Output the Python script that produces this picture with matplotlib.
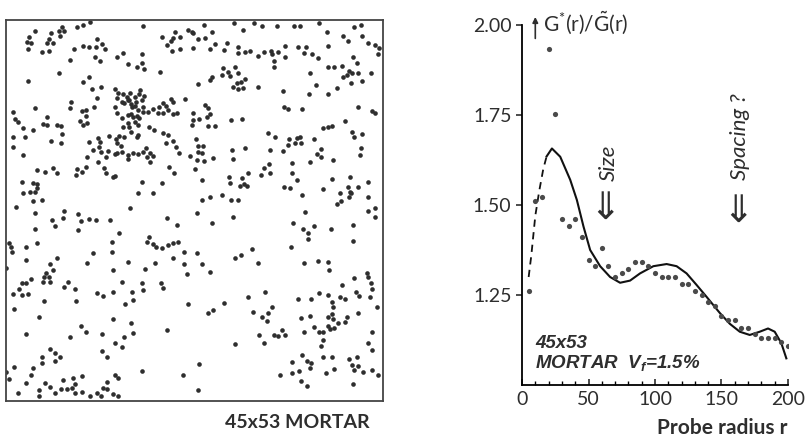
import numpy as np
import matplotlib.pyplot as plt

plt.rcParams['font.family'] = ['Lato', 'DejaVu Sans']
plt.rcParams['mathtext.fontset'] = 'custom'
plt.rcParams['mathtext.rm'] = 'Lato'
plt.rcParams['mathtext.it'] = 'Liberation Sans:italic:bold'

# fibre section: dot centres in four tiles (tile units, 3 per px)
tile_nw = [(105,92),(88,110),(80,125),(92,128),(85,148),(152,100),(148,118),(142,130),(160,128),(148,152),
           (176,94),(180,108),(186,80),(192,92),(232,80),(248,75),(270,67),(125,157),(210,180),(222,148),
           (248,138),(268,142),(290,118),(288,140),(305,132),(316,148),(285,170),(300,183),(428,78),(352,172),
           (370,160),(425,162),(385,193),(412,200),(425,188),(432,206),(178,218),(85,243),(250,245),(268,232),
           (275,268),(303,262),(290,293),(212,305),(210,325),(245,332),(258,330),(282,322),(258,348),(240,362),
           (262,370),(248,375),(345,268),(355,278),(370,282),(380,290),(385,300),(350,293),(365,305),(372,310),
           (390,280),(388,300),(395,322),(405,290),(408,305),(415,330),(420,270),(418,282),(425,300),(428,320),
           (430,335),(445,335),(460,328),(478,320),(490,308),(498,318),(505,330),(512,298),(520,305),(520,342),
           (530,338),(556,297),(346,320),(350,338),(365,355),(385,345),(392,342),(400,350),(410,348),(418,355),
           (404,365),(385,368),(394,312),(406,318),(432,288),(475,338),(490,338),(480,215),(540,110),(525,95),
           (520,115),(512,122),(500,135),(485,112),(515,152),(540,148),(565,90),(575,95),(580,100),(578,145),
           (38,335),(45,358),(55,365),(68,383),(105,323),(98,390),(75,410),(38,412),(40,442),(140,350),
           (128,372),(140,375),(172,376),(182,378),(185,402),(152,422),(182,428),(70,465),(110,510),(135,515),
           (160,505),(172,518),(230,508),(228,525),(245,515),(258,502),(268,425),(295,415),(300,425),(298,440),
           (302,455),(260,470),(280,450),(295,485),(318,470),(323,452),(312,505),(318,520),(338,530),(345,528),
           (328,408),(348,418),(358,408),(372,412),(350,430),(362,438),(365,455),(352,460),(346,463),(385,465),
           (385,478),(400,460),(415,405),(415,462),(428,455),(438,445),(450,460),(440,470),(458,468),(450,485),
           (448,380),(462,390),(488,398),(505,405),(498,428),(520,422),(528,442),(538,458),(508,500),(522,518),
           (578,340),(575,375),(578,360),(570,468),(585,508),(65,545),(98,550),(110,552),(112,565),(105,575),
           (90,575),(68,578),(425,545),(485,548),(415,580),(458,580),(392,395),(412,410),(368,380),(388,380),
           (415,375)]
tile_ne = [(28,75),(118,70),(178,68),(200,78),(245,78),(298,78),(314,78),(372,70),(478,80),(498,76),
           (10,117),(30,115),(52,97),(95,128),(88,150),(60,132),(45,147),(130,140),(130,158),(150,155),
           (165,152),(188,168),(208,155),(228,152),(232,162),(248,155),(270,138),(270,170),(238,182),(236,202),
           (145,90),(310,140),(332,140),(326,158),(350,162),(368,175),(398,138),(395,95),(445,108),(460,122),
           (500,108),(518,130),(540,135),(552,145),(548,163),(475,170),(485,188),(462,212),(470,218),(455,225),
           (445,230),(468,248),(488,220),(502,242),(528,220),(400,202),(418,200),(440,198),(345,220),(362,255),
           (342,282),(400,282),(425,265),(264,272),(190,260),(85,205),(82,225),(100,215),(105,228),(120,200),
           (128,218),(125,248),(115,260),(138,245),(150,238),(145,265),(130,268),(50,232),(45,240),(10,253),
           (30,315),(40,325),(45,342),(35,352),(12,358),(38,378),(60,378),(108,360),(142,357),(268,320),
           (278,328),(320,328),(490,322),(530,332),(540,338),(385,383),(398,382),(410,378),(450,362),(472,395),
           (478,410),(502,402),(498,445),(495,465),(220,398),(240,410),(282,418),(300,428),(305,415),(315,410),
           (318,430),(280,435),(225,450),(265,452),(358,418),(378,448),(365,462),(378,470),(415,480),(345,485),
           (290,488),(4,418),(8,438),(25,437),(10,455),(20,458),(5,480),(28,483),(55,473),(110,450),
           (150,445),(115,478),(222,492),(208,505),(198,525),(225,520),(160,520),(140,533),(148,552),(135,558),
           (155,558),(103,530),(105,550),(20,540),(290,520),(305,540),(268,560),(285,565),(322,585),(385,568),
           (412,538),(435,578),(458,562),(465,575),(462,590),(468,578),(490,560),(518,545),(520,590),(465,530),
           (108,600),(130,600),(80,585),(45,592),(20,600)]
tile_sw = [(100,3),(125,0),(48,20),(105,38),(192,32),(155,60),(190,55),(165,78),(233,42),(242,62),
           (235,90),(268,58),(288,60),(330,60),(390,25),(105,88),(112,128),(78,142),(28,130),(32,140),
           (35,155),(78,180),(18,205),(150,192),(158,210),(170,175),(138,220),(132,232),(130,245),(148,232),
           (150,245),(92,238),(78,250),(65,250),(58,268),(65,285),(85,282),(40,282),(42,328),(118,350),
           (78,402),(132,303),(192,262),(205,245),(225,268),(228,302),(260,190),(278,158),(335,125),(335,157),
           (338,210),(358,98),(385,187),(365,245),(338,275),(290,278),(308,288),(395,275),(400,300),(375,312),
           (425,248),(428,270),(435,208),(440,125),(448,110),(458,132),(468,140),(485,145),(505,135),(520,130),
           (535,125),(465,190),(483,248),(488,265),(502,55),(532,75),(518,175),(552,155),(552,192),(562,222),
           (565,312),(338,358),(242,378),(258,396),(210,410),(305,402),(392,370),(398,398),(372,412),(345,428),
           (365,440),(305,452),(320,470),(502,390),(150,448),(165,460),(180,472),(125,470),(125,488),(165,482),
           (42,500),(18,515),(28,538),(78,550),(92,525),(98,505),(135,550),(150,560),(118,570),(118,588),
           (165,578),(182,568),(190,540),(200,568),(215,565),(218,535),(225,552),(225,580),(245,528),(245,575),
           (270,588),(292,578),(302,588),(308,565),(322,546),(322,568),(338,582),(345,525),(355,535),(355,588),
           (425,512),(548,525),(55,580)]
tile_se = [(5,38),(5,160),(20,193),(45,215),(52,68),(115,50),(120,175),(138,165),(172,148),(188,190),
           (330,35),(295,68),(325,88),(340,98),(358,78),(338,118),(288,142),(408,88),(425,12),(438,3),
           (475,75),(475,122),(520,32),(540,25),(540,52),(326,190),(370,182),(400,185),(402,210),(440,255),
           (478,235),(515,218),(518,232),(528,248),(532,268),(482,275),(492,288),(525,290),(545,320),(40,340),
           (55,330),(88,310),(158,290),(210,275),(175,335),(200,352),(220,338),(232,320),(215,362),(192,405),
           (208,430),(120,432),(238,405),(250,408),(260,390),(270,405),(308,296),(348,298),(372,280),(398,286),
           (410,305),(415,322),(435,290),(450,298),(410,342),(398,350),(415,358),(455,350),(450,365),(430,370),
           (345,348),(318,355),(326,395),(358,380),(372,395),(385,395),(398,378),(405,388),(418,385),(488,340),
           (385,420),(378,438),(532,395),(518,430),(530,450),(12,492),(8,570),(322,465),(335,482),(348,488),
           (345,505),(290,485),(290,520),(312,512),(255,525),(318,542),(335,558),(385,470),(412,470),(392,520),
           (418,508),(462,478),(485,470),(472,495),(478,510),(490,498),(505,515),(530,510),(550,525),(475,552)]
tile_origin = {"nw": (0, 0), "ne": (195, 0), "sw": (0, 200), "se": (195, 200)}

# G*(r)/G~(r) estimates against probe radius
probe_r = [5, 10, 15, 20, 25, 30, 35, 40, 45, 50, 55, 60, 65, 70, 75, 80, 85, 90, 95, 100,
           105, 110, 115, 120, 125, 130, 135, 140, 145, 150, 155, 160, 165, 170, 175, 180, 185, 190, 195, 200]
g_ratio = [1.262, 1.511, 1.522, 1.932, 1.753, 1.461, 1.442, 1.461, 1.412, 1.347, 1.331, 1.381, 1.331, 1.301,
           1.310, 1.321, 1.343, 1.343, 1.331, 1.310, 1.300, 1.300, 1.300, 1.280, 1.280, 1.261, 1.250, 1.231,
           1.219, 1.192, 1.180, 1.180, 1.159, 1.159, 1.143, 1.130, 1.130, 1.130, 1.120, 1.109]
# fitted curve (solid) and its extrapolation towards r=0 (dashed)
fit_r = [18.5, 22.5, 28.75, 36.25, 41.25, 46.25, 51.25, 58.75, 66.25, 73.75, 81.25, 88.75, 98.75, 108.75,
         116.25, 123.75, 131.25, 138.75, 148.75, 156.25, 163.75, 171.25, 178.75, 185, 190, 195, 198.75]
fit_g = [1.635, 1.657, 1.634, 1.57, 1.514, 1.44, 1.375, 1.33, 1.30, 1.284, 1.29, 1.31, 1.33, 1.336,
         1.33, 1.31, 1.278, 1.245, 1.20, 1.17, 1.148, 1.139, 1.148, 1.157, 1.148, 1.116, 1.074]
dash_r = [5, 7, 10, 13, 16, 18.5]
dash_g = [1.30, 1.36, 1.47, 1.54, 1.60, 1.635]

ink = '#2e2e2e'
fig = plt.figure(figsize=(8.12, 4.42), dpi=100)

# left: the section
ax1 = fig.add_axes([6/812, 1-401/442, 377/812, 381/442])
for key, pts in [("nw", tile_nw), ("ne", tile_ne), ("sw", tile_sw), ("se", tile_se)]:
    ox, oy = tile_origin[key]
    p = np.array(pts, dtype=float)
    ax1.scatter(ox + p[:, 0] / 3, oy + p[:, 1] / 3, s=11, color=ink, linewidths=0)
ax1.set_xlim(6, 383)
ax1.set_ylim(401, 20)
ax1.set_xticks([])
ax1.set_yticks([])
for sp in ax1.spines.values():
    sp.set_linewidth(1.3)
    sp.set_color('#444444')
fig.text(297/812, 1-423/442, '45x53 MORTAR', ha='center', va='center',
         fontsize=14, fontweight='bold', color=ink)

# right: the ratio plot
ax2 = fig.add_axes([522/812, 1-385/442, 266/812, 360/442])
ax2.scatter(probe_r, g_ratio, s=14, color='#4a4a4a', linewidths=0, zorder=3)
ax2.plot(fit_r, fit_g, color='#111111', lw=1.5)
ax2.plot(dash_r, dash_g, color='#111111', lw=1.3, dashes=(4, 3))
ax2.set_xlim(0, 200)
ax2.set_ylim(1.0, 2.0)
ax2.spines['top'].set_visible(False)
ax2.spines['right'].set_visible(False)
ax2.spines['left'].set_linewidth(1.3)
ax2.spines['bottom'].set_linewidth(1.3)
ax2.set_yticks([1.25, 1.5, 1.75, 2.0])
ax2.set_yticklabels(['1.25', '1.50', '1.75', '2.00'])
ax2.set_xticks([0, 50, 100, 150, 200])
ax2.set_xticks(np.arange(0, 201, 10), minor=True)
ax2.tick_params(axis='y', direction='out', length=4, width=1.2, labelsize=14, colors=ink)
ax2.tick_params(axis='x', which='major', direction='in', length=4, width=1.2, labelsize=14, colors=ink, pad=4)
ax2.tick_params(axis='x', which='minor', direction='in', length=3, width=1)
fig.text(788/812, 1-428/442, 'Probe radius r', ha='right', va='center',
         fontsize=15, fontweight='bold', color=ink)

ax2.annotate('', xy=(10, 2.03), xytext=(10, 1.955), annotation_clip=False,
             arrowprops=dict(arrowstyle='-|>', color=ink, lw=1.2, mutation_scale=8))
ax2.text(16, 2.005, r'$\mathrm{G^{*}(r)/\tilde{G}(r)}$', fontsize=15, va='center', ha='left',
         color=ink, clip_on=False)

ax2.text(65, 1.616, 'Size', rotation=90, ha='center', va='center', fontsize=16,
         style='italic', color=ink)
ax2.text(62.5, 1.488, '\u21d3', ha='center', va='center', fontsize=27,
         family='DejaVu Sans', color=ink)
ax2.text(164, 1.69, 'Spacing ?', rotation=90, ha='center', va='center', fontsize=16,
         style='italic', color=ink)
ax2.text(162.5, 1.48, '\u21d3', ha='center', va='center', fontsize=27,
         family='DejaVu Sans', color=ink)

ax2.text(10, 1.102, '45x53', fontsize=13.5, family='Liberation Sans', fontweight='bold',
         style='italic', color=ink)
ax2.text(10, 1.046, r'MORTAR  $V_f$=1.5%', fontsize=13.5, family='Liberation Sans',
         fontweight='bold', style='italic', color=ink)

fig.savefig('out.png', dpi=100)
